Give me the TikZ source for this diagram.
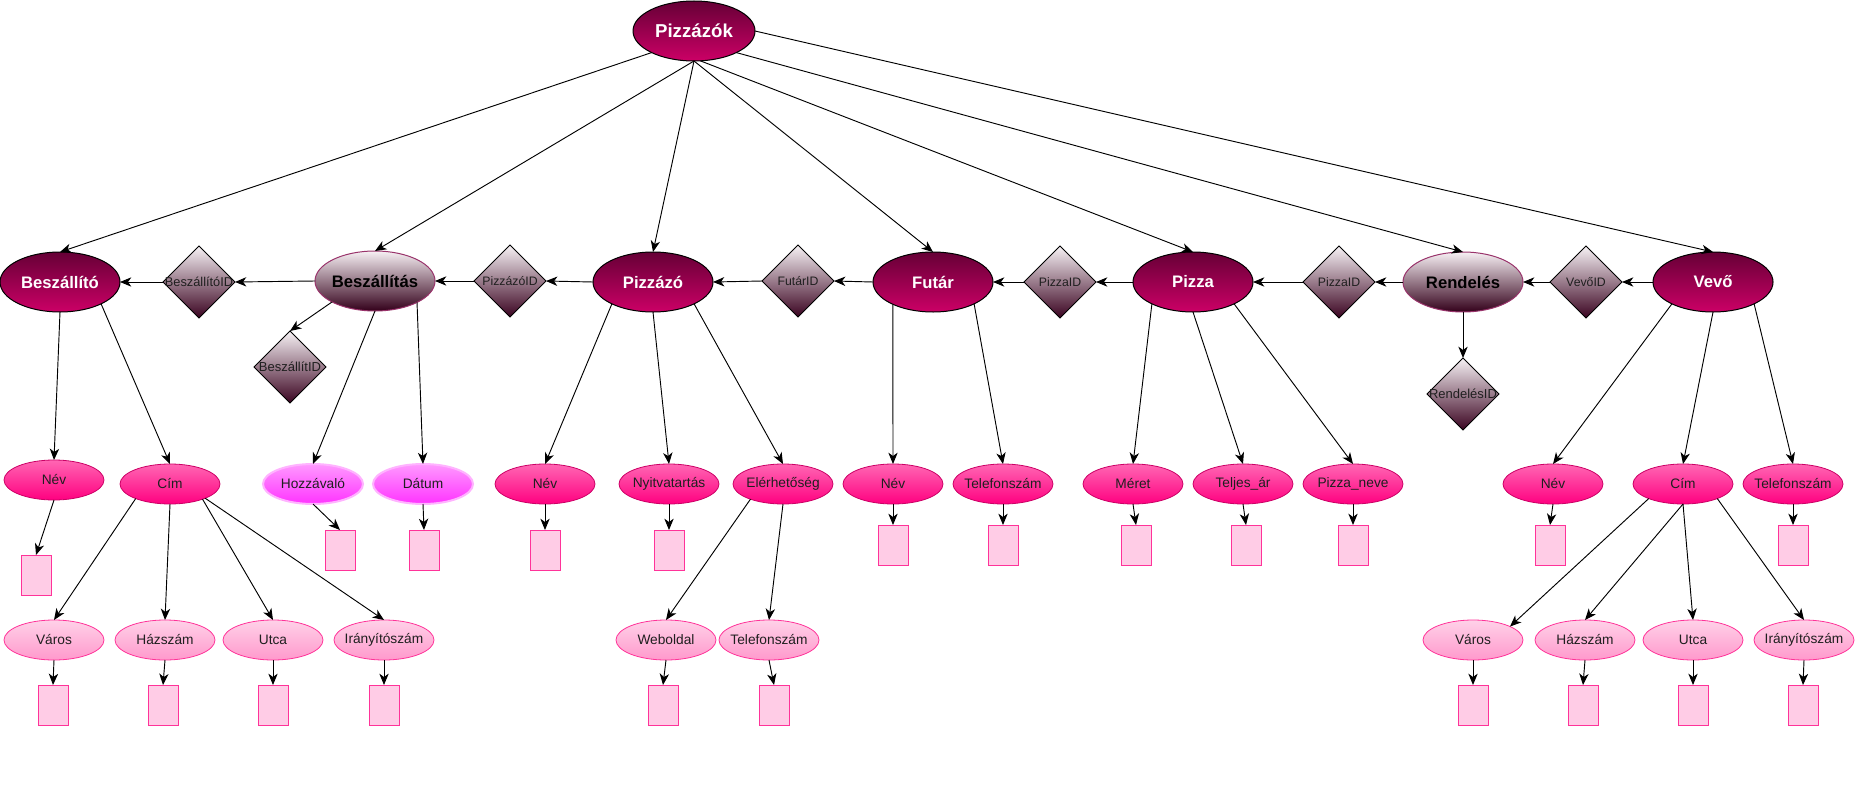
\documentclass[tikz,border=0pt]{standalone}
\usepackage{fontspec}
\setmainfont{Liberation Sans}
\usetikzlibrary{shapes.geometric,arrows.meta}

\definecolor{entTop}{HTML}{660036}
\definecolor{entBot}{HTML}{CC0066}
\definecolor{relTop}{HTML}{F7F0F4}
\definecolor{relBot}{HTML}{33001A}
\definecolor{relLine}{HTML}{99336B}
\definecolor{keyTop}{HTML}{F7F2F5}
\definecolor{keyBot}{HTML}{3A0320}
\definecolor{atTop}{HTML}{FF66B3}
\definecolor{atBot}{HTML}{FF0080}
\definecolor{atLine}{HTML}{CC0066}
\definecolor{subTop}{HTML}{FFD1E8}
\definecolor{subBot}{HTML}{FF99CC}
\definecolor{subLine}{HTML}{FF3399}
\definecolor{vioTop}{HTML}{FF99FF}
\definecolor{vioBot}{HTML}{FF33FF}
\definecolor{vioLine}{HTML}{FFB3FF}
\definecolor{valFill}{HTML}{FFCCE6}
\definecolor{valLine}{HTML}{FF3399}
\definecolor{txt}{HTML}{1F1F1F}

\tikzset{
  shp/.style={inner sep=0pt, outer sep=0pt},
  rootent/.style={shp, ellipse, draw=black, line width=0.75pt,
    top color=entTop, bottom color=entBot,
    minimum width=91.5pt, minimum height=45pt,
    label={[text=white, font=\bfseries\fontsize{14}{16}\selectfont]center:#1}},
  entity/.style={shp, ellipse, draw=black, line width=0.75pt,
    top color=entTop, bottom color=entBot,
    minimum width=90pt, minimum height=45pt,
    label={[text=white, font=\bfseries\fontsize{12.5}{14}\selectfont]center:#1}},
  relent/.style={shp, ellipse, draw=relLine, line width=0.75pt,
    top color=relTop, bottom color=relBot,
    minimum width=90pt, minimum height=45pt,
    label={[text=black, font=\bfseries\fontsize{12.5}{14}\selectfont]center:#1}},
  keybox/.style={shp, diamond, draw=black, line width=0.75pt,
    top color=keyTop, bottom color=keyBot,
    minimum width=54pt, minimum height=54pt,
    label={[text=txt, font=\fontsize{9.2}{11}\selectfont]center:#1}},
  attr/.style={shp, ellipse, draw=atLine, line width=0.6pt,
    top color=atTop, bottom color=atBot,
    minimum width=75pt, minimum height=30pt,
    label={[text=txt, font=\fontsize{10.3}{12}\selectfont]center:#1}},
  vattr/.style={shp, ellipse, draw=vioLine, line width=1.5pt,
    top color=vioTop, bottom color=vioBot,
    minimum width=75pt, minimum height=30pt,
    label={[text=txt, font=\fontsize{10.3}{12}\selectfont]center:#1}},
  subattr/.style={shp, ellipse, draw=subLine, line width=0.6pt,
    top color=subTop, bottom color=subBot,
    minimum width=75pt, minimum height=30pt,
    label={[text=txt, font=\fontsize{10.3}{12}\selectfont]center:#1}},
  valbox/.style={shp, rectangle, draw=valLine, fill=valFill, line width=0.75pt,
    minimum width=22.5pt, minimum height=30pt},
  conn/.style={-{Stealth[length=8.5pt,width=7pt,inset=2.5pt]}, line width=0.7pt, black},
}

\begin{document}
\begin{tikzpicture}[x=0.75pt,y=-0.75pt]
\useasboundingbox (0,0) rectangle (1855,799);
\fill[white] (0,0) rectangle (1855,799);

% root
\node[rootent=Pizzázók] (pzk) at (694,31) {};

% entity row
\node[entity=Beszállító] (besz) at (60,282) {};
\node[relent=Beszállítás] (beszas) at (375,281) {};
\node[entity=Pizzázó] (pizzazo) at (653,282) {};
\node[entity=Futár] (futar) at (933,282) {};
\node[entity=Pizza] (pizza) at (1193,282) {};
\node[relent=Rendelés] (rend) at (1463,282) {};
\node[entity=Vevő] (vevo) at (1713,282) {};

% key diamonds
\node[keybox={\fontsize{9.6}{11}\selectfont BeszállítóID}] (kBesz) at (199,282) {};
\node[keybox=PizzázóID] (kPzo) at (510,281) {};
\node[keybox=FutárID] (kFut) at (798,281) {};
\node[keybox=PizzaID] (kPiz1) at (1060,282) {};
\node[keybox=PizzaID] (kPiz2) at (1339,282) {};
\node[keybox=VevőID] (kVevo) at (1586,282) {};
\node[keybox={\fontsize{9.75}{11}\selectfont RendelésID}] (kRend) at (1463,394) {};
\node[keybox={\fontsize{9.75}{11}\selectfont BeszállítID}] (kSzal) at (290,367) {};

% attributes
\node[attr=Név] (n1) at (54,480) {};
\node[attr=Cím] (c1) at (170,484) {};
\node[vattr=Hozzávaló] (hoz) at (313,484) {};
\node[vattr=Dátum] (dat) at (423,484) {};
\node[attr=Név] (n2) at (545,484) {};
\node[attr=Nyitvatartás] (nyit) at (669,484) {};
\node[attr=Elérhetőség] (eler) at (783,484) {};
\node[attr=Név] (n3) at (893,484) {};
\node[attr=Telefonszám] (t3) at (1003,484) {};
\node[attr=Méret] (meret) at (1133,484) {};
\node[attr=Teljes\_ár] (telj) at (1243,484) {};
\node[attr=Pizza\_neve] (pneve) at (1353,484) {};
\node[attr=Név] (n4) at (1553,484) {};
\node[attr=Cím] (c4) at (1683,484) {};
\node[attr=Telefonszám] (t4) at (1793,484) {};

% sub-attributes
\node[subattr=Város] (v1) at (54,640) {};
\node[subattr=Házszám] (h1) at (165,640) {};
\node[subattr=Utca] (u1) at (273,640) {};
\node[subattr=Irányítószám] (i1) at (384,640) {};
\node[subattr=Weboldal] (web) at (666,640) {};
\node[subattr=Telefonszám] (t2) at (769,640) {};
\node[subattr=Város] (v4) at (1473,640) {};
\node[subattr=Házszám] (h4) at (1585,640) {};
\node[subattr=Utca] (u4) at (1693,640) {};
\node[subattr=Irányítószám] (i4) at (1804,640) {};

% value boxes
\node[valbox] (bn1) at (36,575) {};
\node[valbox] (bhoz) at (340,550) {};
\node[valbox] (bdat) at (424,550) {};
\node[valbox] (bn2) at (545,550) {};
\node[valbox] (bnyit) at (669,550) {};
\node[valbox] (bn3) at (893,545) {};
\node[valbox] (bt3) at (1003,545) {};
\node[valbox] (bmeret) at (1136,545) {};
\node[valbox] (btelj) at (1246,545) {};
\node[valbox] (bpneve) at (1353,545) {};
\node[valbox] (bn4) at (1550,545) {};
\node[valbox] (bt4) at (1793,545) {};
\node[valbox] (bv1) at (53,705) {};
\node[valbox] (bh1) at (163,705) {};
\node[valbox] (bu1) at (273,705) {};
\node[valbox] (bi1) at (384,705) {};
\node[valbox] (bweb) at (663,705) {};
\node[valbox] (bt2) at (774,705) {};
\node[valbox] (bv4) at (1473,705) {};
\node[valbox] (bh4) at (1583,705) {};
\node[valbox] (bu4) at (1693,705) {};
\node[valbox] (bi4) at (1803,705) {};

% root to entities
\draw[conn] (pzk.207) -- (besz.north);
\draw[conn] (pzk.south) -- (beszas.north);
\draw[conn] (pzk.south) -- (pizzazo.north);
\draw[conn] (pzk.south) -- (futar.north);
\draw[conn] (pzk.282) -- (pizza.north);
\draw[conn] (pzk.333) -- (rend.north);
\draw[conn] (pzk.east) -- (vevo.north);

% keys along the entity row
\draw[conn] (beszas.west) -- (kBesz.east);
\draw[conn] (kBesz.west) -- (besz.east);
\draw[conn] (kPzo.west) -- (beszas.east);
\draw[conn] (pizzazo.west) -- (kPzo.east);
\draw[conn] (kFut.west) -- (pizzazo.east);
\draw[conn] (futar.west) -- (kFut.east);
\draw[conn] (kPiz1.west) -- (futar.east);
\draw[conn] (pizza.west) -- (kPiz1.east);
\draw[conn] (kPiz2.west) -- (pizza.east);
\draw[conn] (rend.west) -- (kPiz2.east);
\draw[conn] (kVevo.west) -- (rend.east);
\draw[conn] (vevo.west) -- (kVevo.east);
\draw[conn] (rend.south) -- (kRend.north);
\draw[conn] (beszas.206) -- (kSzal.north);

% entities to attributes
\draw[conn] (besz.south) -- (n1.north);
\draw[conn] (besz.332) -- (c1.north);
\draw[conn] (beszas.south) -- (hoz.north);
\draw[conn] (beszas.333) -- (dat.north);
\draw[conn] (pizzazo.208) -- (n2.north);
\draw[conn] (pizzazo.south) -- (nyit.north);
\draw[conn] (pizzazo.332) -- (eler.north);
\draw[conn] (futar.209) -- (n3.north);
\draw[conn] (futar.332) -- (t3.north);
\draw[conn] (pizza.208) -- (meret.north);
\draw[conn] (pizza.south) -- (telj.north);
\draw[conn] (pizza.332) -- (pneve.north);
\draw[conn] (vevo.208) -- (n4.north);
\draw[conn] (vevo.south) -- (c4.north);
\draw[conn] (vevo.332) -- (t4.north);

% composite attributes
\draw[conn] (c1.203) -- (v1.north);
\draw[conn] (c1.south) -- (h1.north);
\draw[conn] (c1.335) -- (u1.north);
\draw[conn] (c1.338) -- (i1.north);
\draw[conn] (eler.205) -- (web.north);
\draw[conn] (eler.south) -- (t2.north);
\draw[conn] (c4.203) -- (v4.20);
\draw[conn] (c4.south) -- (h4.north);
\draw[conn] (c4.south) -- (u4.north);
\draw[conn] (c4.337) -- (i4.north);

% attributes to value boxes
\draw[conn] (n1.south) -- (bn1.north);
\draw[conn] (hoz.south) -- (bhoz.north);
\draw[conn] (dat.south) -- (bdat.north);
\draw[conn] (n2.south) -- (bn2.north);
\draw[conn] (nyit.south) -- (bnyit.north);
\draw[conn] (n3.south) -- (bn3.north);
\draw[conn] (t3.south) -- (bt3.north);
\draw[conn] (meret.south) -- (bmeret.north);
\draw[conn] (telj.south) -- (btelj.north);
\draw[conn] (pneve.south) -- (bpneve.north);
\draw[conn] (n4.south) -- (bn4.north);
\draw[conn] (t4.south) -- (bt4.north);
\draw[conn] (v1.south) -- (bv1.north);
\draw[conn] (h1.south) -- (bh1.north);
\draw[conn] (u1.south) -- (bu1.north);
\draw[conn] (i1.south) -- (bi1.north);
\draw[conn] (web.south) -- (bweb.north);
\draw[conn] (t2.south) -- (bt2.north);
\draw[conn] (v4.south) -- (bv4.north);
\draw[conn] (h4.south) -- (bh4.north);
\draw[conn] (u4.south) -- (bu4.north);
\draw[conn] (i4.south) -- (bi4.north);
\end{tikzpicture}
\end{document}
